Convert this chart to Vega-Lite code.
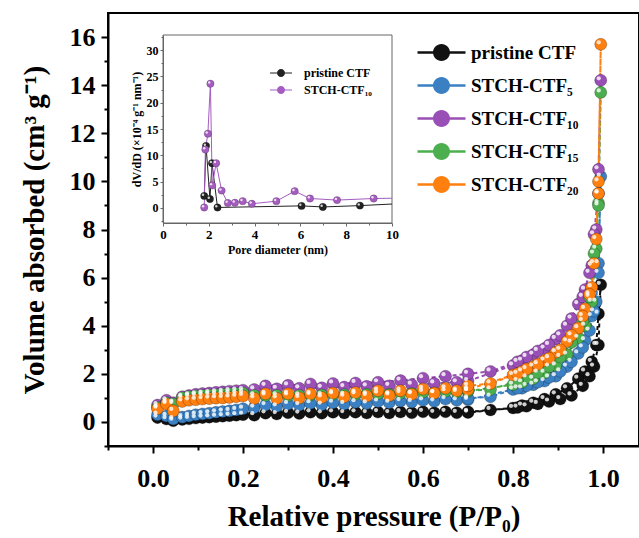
{
  "$schema": "https://vega.github.io/schema/vega-lite/v6.json",
  "width": 531,
  "height": 433,
  "autosize": {"type": "none"},
  "padding": {"left": 108, "top": 13, "right": 0, "bottom": 92},
  "background": "white",
  "config": {
    "view": {"stroke": "black", "strokeWidth": 2},
    "font": "Liberation Serif",
    "axis": {"labelFont": "Liberation Serif", "titleFont": "Liberation Serif", "labelFontWeight": "bold", "titleFontWeight": "bold", "labelColor": "black", "titleColor": "black", "grid": false, "labelFlush": false, "labelOverlap": false},
    "legend": {"labelFont": "Liberation Serif", "labelFontWeight": "bold", "labelColor": "black", "symbolStrokeWidth": 0, "orient": "none", "direction": "vertical"}
  },
  "datasets": {
    "main": [
      {"s":"P","x":0.01,"y":0.18},{"s":"P","x":0.03,"y":0.12},{"s":"P","x":0.045,"y":0.05},{"s":"P","x":0.065,"y":0.1},{"s":"P","x":0.08,"y":0.13},{"s":"P","x":0.095,"y":0.16},{"s":"P","x":0.11,"y":0.18},{"s":"P","x":0.125,"y":0.2},{"s":"P","x":0.14,"y":0.22},{"s":"P","x":0.155,"y":0.24},{"s":"P","x":0.17,"y":0.26},{"s":"P","x":0.185,"y":0.28},{"s":"P","x":0.2,"y":0.3},{"s":"P","x":0.225,"y":0.28},{"s":"P","x":0.275,"y":0.33},{"s":"P","x":0.325,"y":0.35},{"s":"P","x":0.375,"y":0.36},{"s":"P","x":0.425,"y":0.37},{"s":"P","x":0.475,"y":0.37},{"s":"P","x":0.525,"y":0.37},{"s":"P","x":0.575,"y":0.38},{"s":"P","x":0.625,"y":0.38},{"s":"P","x":0.675,"y":0.38},{"s":"P","x":0.7,"y":0.39},{"s":"P","x":0.8,"y":0.58},{"s":"P","x":0.82,"y":0.68},{"s":"P","x":0.845,"y":0.8},{"s":"P","x":0.87,"y":0.95},{"s":"P","x":0.895,"y":1.15},{"s":"P","x":0.92,"y":1.4},{"s":"P","x":0.945,"y":1.8},{"s":"P","x":0.96,"y":2.1},{"s":"P","x":0.975,"y":2.5},{"s":"P","x":0.985,"y":3.2},{"s":"P","x":0.99,"y":4.5},{"s":"P","x":0.995,"y":5.7},
      {"s":"P","x":0.99,"y":3.2},{"s":"P","x":0.98,"y":2.3},{"s":"P","x":0.97,"y":1.9},{"s":"P","x":0.955,"y":1.5},{"s":"P","x":0.93,"y":1.1},{"s":"P","x":0.905,"y":0.95},{"s":"P","x":0.88,"y":0.85},{"s":"P","x":0.855,"y":0.75},{"s":"P","x":0.83,"y":0.65},{"s":"P","x":0.81,"y":0.6},{"s":"P","x":0.75,"y":0.5},{"s":"P","x":0.7,"y":0.42},{"s":"P","x":0.65,"y":0.42},{"s":"P","x":0.6,"y":0.42},{"s":"P","x":0.55,"y":0.41},{"s":"P","x":0.5,"y":0.41},{"s":"P","x":0.45,"y":0.4},{"s":"P","x":0.4,"y":0.4},{"s":"P","x":0.35,"y":0.4},{"s":"P","x":0.3,"y":0.38},{"s":"P","x":0.25,"y":0.36},

      {"s":"S5","x":0.01,"y":0.3},{"s":"S5","x":0.03,"y":0.25},{"s":"S5","x":0.045,"y":0.12},{"s":"S5","x":0.065,"y":0.2},{"s":"S5","x":0.08,"y":0.25},{"s":"S5","x":0.095,"y":0.3},{"s":"S5","x":0.11,"y":0.33},{"s":"S5","x":0.125,"y":0.36},{"s":"S5","x":0.14,"y":0.4},{"s":"S5","x":0.155,"y":0.43},{"s":"S5","x":0.17,"y":0.46},{"s":"S5","x":0.185,"y":0.5},{"s":"S5","x":0.2,"y":0.55},{"s":"S5","x":0.225,"y":0.6},{"s":"S5","x":0.275,"y":0.65},{"s":"S5","x":0.325,"y":0.7},{"s":"S5","x":0.375,"y":0.72},{"s":"S5","x":0.425,"y":0.75},{"s":"S5","x":0.475,"y":0.77},{"s":"S5","x":0.525,"y":0.8},{"s":"S5","x":0.575,"y":0.83},{"s":"S5","x":0.625,"y":0.86},{"s":"S5","x":0.675,"y":0.9},{"s":"S5","x":0.7,"y":0.92},{"s":"S5","x":0.8,"y":1.35},{"s":"S5","x":0.82,"y":1.4},{"s":"S5","x":0.845,"y":1.55},{"s":"S5","x":0.87,"y":1.7},{"s":"S5","x":0.895,"y":1.9},{"s":"S5","x":0.92,"y":2.3},{"s":"S5","x":0.945,"y":2.85},{"s":"S5","x":0.96,"y":3.4},{"s":"S5","x":0.975,"y":4.4},{"s":"S5","x":0.985,"y":5.0},{"s":"S5","x":0.99,"y":6.6},{"s":"S5","x":0.995,"y":10.2},
      {"s":"S5","x":0.99,"y":6.2},{"s":"S5","x":0.98,"y":4.6},{"s":"S5","x":0.97,"y":3.8},{"s":"S5","x":0.955,"y":3.1},{"s":"S5","x":0.93,"y":2.5},{"s":"S5","x":0.905,"y":2.1},{"s":"S5","x":0.88,"y":1.85},{"s":"S5","x":0.855,"y":1.65},{"s":"S5","x":0.83,"y":1.5},{"s":"S5","x":0.81,"y":1.4},{"s":"S5","x":0.75,"y":1.05},{"s":"S5","x":0.7,"y":0.98},{"s":"S5","x":0.65,"y":0.95},{"s":"S5","x":0.6,"y":0.9},{"s":"S5","x":0.55,"y":0.87},{"s":"S5","x":0.5,"y":0.85},{"s":"S5","x":0.45,"y":0.82},{"s":"S5","x":0.4,"y":0.8},{"s":"S5","x":0.35,"y":0.78},{"s":"S5","x":0.3,"y":0.75},{"s":"S5","x":0.25,"y":0.7},

      {"s":"S10","x":0.01,"y":0.7},{"s":"S10","x":0.03,"y":0.9},{"s":"S10","x":0.045,"y":0.8},{"s":"S10","x":0.065,"y":1.05},{"s":"S10","x":0.08,"y":1.1},{"s":"S10","x":0.095,"y":1.15},{"s":"S10","x":0.11,"y":1.18},{"s":"S10","x":0.125,"y":1.2},{"s":"S10","x":0.14,"y":1.23},{"s":"S10","x":0.155,"y":1.25},{"s":"S10","x":0.17,"y":1.28},{"s":"S10","x":0.185,"y":1.3},{"s":"S10","x":0.2,"y":1.32},{"s":"S10","x":0.225,"y":1.35},{"s":"S10","x":0.275,"y":1.38},{"s":"S10","x":0.325,"y":1.4},{"s":"S10","x":0.375,"y":1.42},{"s":"S10","x":0.425,"y":1.45},{"s":"S10","x":0.475,"y":1.48},{"s":"S10","x":0.525,"y":1.5},{"s":"S10","x":0.575,"y":1.55},{"s":"S10","x":0.625,"y":1.6},{"s":"S10","x":0.675,"y":1.65},{"s":"S10","x":0.7,"y":1.7},{"s":"S10","x":0.8,"y":2.35},{"s":"S10","x":0.82,"y":2.55},{"s":"S10","x":0.845,"y":2.8},{"s":"S10","x":0.87,"y":3.05},{"s":"S10","x":0.895,"y":3.45},{"s":"S10","x":0.92,"y":4.0},{"s":"S10","x":0.945,"y":4.9},{"s":"S10","x":0.96,"y":5.5},{"s":"S10","x":0.975,"y":6.5},{"s":"S10","x":0.985,"y":8.0},{"s":"S10","x":0.99,"y":10.5},{"s":"S10","x":0.995,"y":14.2},
      {"s":"S10","x":0.99,"y":9.5},{"s":"S10","x":0.98,"y":7.8},{"s":"S10","x":0.97,"y":6.2},{"s":"S10","x":0.955,"y":5.2},{"s":"S10","x":0.93,"y":4.3},{"s":"S10","x":0.905,"y":3.6},{"s":"S10","x":0.88,"y":3.2},{"s":"S10","x":0.855,"y":2.95},{"s":"S10","x":0.83,"y":2.7},{"s":"S10","x":0.81,"y":2.5},{"s":"S10","x":0.75,"y":2.1},{"s":"S10","x":0.7,"y":2.0},{"s":"S10","x":0.65,"y":1.9},{"s":"S10","x":0.6,"y":1.82},{"s":"S10","x":0.55,"y":1.72},{"s":"S10","x":0.5,"y":1.65},{"s":"S10","x":0.45,"y":1.62},{"s":"S10","x":0.4,"y":1.6},{"s":"S10","x":0.35,"y":1.58},{"s":"S10","x":0.3,"y":1.52},{"s":"S10","x":0.25,"y":1.5},

      {"s":"S15","x":0.01,"y":0.6},{"s":"S15","x":0.03,"y":0.8},{"s":"S15","x":0.045,"y":0.75},{"s":"S15","x":0.065,"y":1.0},{"s":"S15","x":0.08,"y":1.05},{"s":"S15","x":0.095,"y":1.08},{"s":"S15","x":0.11,"y":1.1},{"s":"S15","x":0.125,"y":1.12},{"s":"S15","x":0.14,"y":1.13},{"s":"S15","x":0.155,"y":1.15},{"s":"S15","x":0.17,"y":1.17},{"s":"S15","x":0.185,"y":1.18},{"s":"S15","x":0.2,"y":1.2},{"s":"S15","x":0.225,"y":1.1},{"s":"S15","x":0.275,"y":1.1},{"s":"S15","x":0.325,"y":1.1},{"s":"S15","x":0.375,"y":1.12},{"s":"S15","x":0.425,"y":1.13},{"s":"S15","x":0.475,"y":1.15},{"s":"S15","x":0.525,"y":1.15},{"s":"S15","x":0.575,"y":1.18},{"s":"S15","x":0.625,"y":1.2},{"s":"S15","x":0.675,"y":1.25},{"s":"S15","x":0.7,"y":1.28},{"s":"S15","x":0.8,"y":1.55},{"s":"S15","x":0.82,"y":1.65},{"s":"S15","x":0.845,"y":1.8},{"s":"S15","x":0.87,"y":2.05},{"s":"S15","x":0.895,"y":2.35},{"s":"S15","x":0.92,"y":2.8},{"s":"S15","x":0.945,"y":3.5},{"s":"S15","x":0.96,"y":4.0},{"s":"S15","x":0.975,"y":5.0},{"s":"S15","x":0.985,"y":7.2},{"s":"S15","x":0.99,"y":9.1},{"s":"S15","x":0.995,"y":13.7},
      {"s":"S15","x":0.99,"y":9.0},{"s":"S15","x":0.98,"y":7.0},{"s":"S15","x":0.97,"y":5.2},{"s":"S15","x":0.955,"y":4.2},{"s":"S15","x":0.93,"y":3.3},{"s":"S15","x":0.905,"y":2.7},{"s":"S15","x":0.88,"y":2.3},{"s":"S15","x":0.855,"y":2.05},{"s":"S15","x":0.83,"y":1.85},{"s":"S15","x":0.81,"y":1.7},{"s":"S15","x":0.75,"y":1.35},{"s":"S15","x":0.7,"y":1.3},{"s":"S15","x":0.65,"y":1.28},{"s":"S15","x":0.6,"y":1.25},{"s":"S15","x":0.55,"y":1.2},{"s":"S15","x":0.5,"y":1.18},{"s":"S15","x":0.45,"y":1.15},{"s":"S15","x":0.4,"y":1.15},{"s":"S15","x":0.35,"y":1.12},{"s":"S15","x":0.3,"y":1.1},{"s":"S15","x":0.25,"y":1.1},

      {"s":"S20","x":0.01,"y":0.55},{"s":"S20","x":0.03,"y":0.75},{"s":"S20","x":0.045,"y":0.46},{"s":"S20","x":0.065,"y":0.85},{"s":"S20","x":0.08,"y":0.9},{"s":"S20","x":0.095,"y":0.92},{"s":"S20","x":0.11,"y":0.95},{"s":"S20","x":0.125,"y":0.97},{"s":"S20","x":0.14,"y":0.99},{"s":"S20","x":0.155,"y":1.0},{"s":"S20","x":0.17,"y":1.02},{"s":"S20","x":0.185,"y":1.05},{"s":"S20","x":0.2,"y":1.08},{"s":"S20","x":0.225,"y":0.98},{"s":"S20","x":0.275,"y":0.98},{"s":"S20","x":0.325,"y":1.0},{"s":"S20","x":0.375,"y":1.02},{"s":"S20","x":0.425,"y":1.05},{"s":"S20","x":0.475,"y":1.08},{"s":"S20","x":0.525,"y":1.1},{"s":"S20","x":0.575,"y":1.15},{"s":"S20","x":0.625,"y":1.2},{"s":"S20","x":0.675,"y":1.3},{"s":"S20","x":0.7,"y":1.35},{"s":"S20","x":0.8,"y":1.95},{"s":"S20","x":0.82,"y":2.1},{"s":"S20","x":0.845,"y":2.3},{"s":"S20","x":0.87,"y":2.55},{"s":"S20","x":0.895,"y":2.9},{"s":"S20","x":0.92,"y":3.35},{"s":"S20","x":0.945,"y":3.9},{"s":"S20","x":0.96,"y":4.7},{"s":"S20","x":0.975,"y":5.6},{"s":"S20","x":0.985,"y":7.6},{"s":"S20","x":0.99,"y":10.0},{"s":"S20","x":0.995,"y":15.7},
      {"s":"S20","x":0.99,"y":9.5},{"s":"S20","x":0.98,"y":6.6},{"s":"S20","x":0.97,"y":5.3},{"s":"S20","x":0.955,"y":4.4},{"s":"S20","x":0.93,"y":3.6},{"s":"S20","x":0.905,"y":3.0},{"s":"S20","x":0.88,"y":2.65},{"s":"S20","x":0.855,"y":2.4},{"s":"S20","x":0.83,"y":2.2},{"s":"S20","x":0.81,"y":2.0},{"s":"S20","x":0.75,"y":1.6},{"s":"S20","x":0.7,"y":1.5},{"s":"S20","x":0.65,"y":1.4},{"s":"S20","x":0.6,"y":1.37},{"s":"S20","x":0.55,"y":1.3},{"s":"S20","x":0.5,"y":1.3},{"s":"S20","x":0.45,"y":1.22},{"s":"S20","x":0.4,"y":1.2},{"s":"S20","x":0.35,"y":1.17},{"s":"S20","x":0.3,"y":1.17},{"s":"S20","x":0.25,"y":1.17}
    ],
    "inset": [
      {"s":"P","x":1.8,"y":2.3},{"s":"P","x":1.88,"y":11.8},{"s":"P","x":2.05,"y":1.7},{"s":"P","x":2.14,"y":8.5},{"s":"P","x":2.38,"y":0.1},{"s":"P","x":6.05,"y":0.4},{"s":"P","x":6.98,"y":0.2},{"s":"P","x":8.6,"y":0.45},{"s":"P","x":10,"y":0.75},
      {"s":"S10","x":1.8,"y":0.1},{"s":"S10","x":1.85,"y":11.1},{"s":"S10","x":1.96,"y":14.1},{"s":"S10","x":2.07,"y":23.6},{"s":"S10","x":2.15,"y":4.3},{"s":"S10","x":2.32,"y":8.5},{"s":"S10","x":2.56,"y":3.3},{"s":"S10","x":2.83,"y":0.95},{"s":"S10","x":3.14,"y":1.0},{"s":"S10","x":3.48,"y":1.3},{"s":"S10","x":3.88,"y":0.8},{"s":"S10","x":4.95,"y":1.3},{"s":"S10","x":5.75,"y":3.2},{"s":"S10","x":6.42,"y":1.8},{"s":"S10","x":7.6,"y":1.5},{"s":"S10","x":9.2,"y":1.8},{"s":"S10","x":10,"y":1.85}
    ]
  },
  "resolve": {"scale": {"x": "independent", "y": "independent", "color": "independent", "stroke": "independent"}},
  "layer": [
    {
      "data": {"name": "main"},
      "resolve": {"axis": {"x": "independent", "y": "independent"}},
      "layer": [
        {
          "mark": {"type": "line", "strokeWidth": 2, "strokeDash": [4, 3]},
          "encoding": {
            "x": {"field": "x", "type": "quantitative", "scale": {"domain": [-0.1, 1.08], "nice": false, "zero": false},
                  "axis": {"orient": "bottom", "title": "Relative pressure (P/P₀)", "values": [0, 0.2, 0.4, 0.6, 0.8, 1.0], "format": ".1f", "labelFontSize": 26, "titleFontSize": 29, "tickSize": 7, "tickWidth": 2, "domainWidth": 2, "domainColor": "black", "tickColor": "black", "labelPadding": 12, "titlePadding": 11}},
            "y": {"field": "y", "type": "quantitative", "scale": {"domain": [-1, 17], "nice": false, "zero": false},
                  "axis": {"orient": "left", "title": "Volume absorbed (cm³ g⁻¹)", "values": [0, 2, 4, 6, 8, 10, 12, 14, 16], "labelFontSize": 26, "titleFontSize": 29, "tickSize": 7, "tickWidth": 2, "domainWidth": 2, "domainColor": "black", "tickColor": "black", "labelPadding": 6, "titlePadding": 20}},
            "stroke": {"field": "s", "type": "nominal", "scale": {"domain": ["S20", "S15", "S10", "S5", "P"], "range": ["#ff7f0f", "#4caf4f", "#9a4fb6", "#3a80c3", "#111111"]}, "legend": null},
            "order": {"value": null}
          }
        },
        {
          "mark": {"type": "point", "filled": true, "size": 145, "opacity": 1, "stroke": "black", "strokeOpacity": 0.3, "strokeWidth": 0.8},
          "encoding": {
            "x": {"field": "x", "type": "quantitative", "axis": null},
            "y": {"field": "y", "type": "quantitative", "axis": null},
            "color": {"field": "s", "type": "nominal", "scale": {"domain": ["P", "S5", "S10", "S15", "S20"], "range": ["#111111", "#3a80c3", "#9a4fb6", "#4caf4f", "#ff7f0f"]},
                      "legend": {"title": null, "orient": "none", "legendX": 324, "legendY": 30, "symbolType": "M-2.667,-0.133H-0.9V0.133H-2.667Z M0.9,-0.133H2.667V0.133H0.9Z M0.944,0A0.944,0.944,0,1,1,-0.944,0A0.944,0.944,0,1,1,0.944,0Z", "symbolSize": 324, "labelFontSize": 19, "labelOffset": 20, "rowPadding": 13,
                                 "labelExpr": "datum.label == 'P' ? 'pristine CTF' : datum.label == 'S5' ? 'STCH-CTF₅' : datum.label == 'S10' ? 'STCH-CTF₁₀' : datum.label == 'S15' ? 'STCH-CTF₁₅' : 'STCH-CTF₂₀'"}}
          }
        },
        {
          "mark": {"type": "point", "filled": true, "size": 18, "color": "white", "opacity": 0.8, "xOffset": -2, "yOffset": -2},
          "encoding": {
            "x": {"field": "x", "type": "quantitative", "axis": {"orient": "bottom", "title": null, "values": [-0.1, 0.1, 0.3, 0.5, 0.7, 0.9], "labels": false, "domain": false, "tickSize": 4, "tickWidth": 2, "tickColor": "black"}},
            "y": {"field": "y", "type": "quantitative", "axis": {"orient": "left", "title": null, "values": [-1, 1, 3, 5, 7, 9, 11, 13, 15], "labels": false, "domain": false, "tickSize": 4, "tickWidth": 2, "tickColor": "black"}}
          }
        }
      ]
    },
    {
      "data": {"name": "inset"},
      "resolve": {"axis": {"x": "independent", "y": "independent"}},
      "layer": [
        {
          "data": {"values": [{}]},
          "mark": {"type": "rect", "filled": false, "stroke": "#666666", "strokeWidth": 1},
          "encoding": {
            "x": {"datum": 0, "type": "quantitative", "scale": {"domain": [0, 10], "range": [55, 284], "nice": false, "zero": false},
                  "axis": {"orient": "bottom", "offset": -223, "title": "Pore diameter (nm)", "values": [0, 2, 4, 6, 8, 10], "labelFontSize": 13, "titleFontSize": 12, "tickSize": 3, "tickWidth": 1, "domainColor": "#666666", "tickColor": "#666666", "labelPadding": 2, "titlePadding": 3}},
            "x2": {"datum": 10},
            "y": {"datum": -2.85, "type": "quantitative", "scale": {"domain": [-2.85, 32.85], "range": [210, 22], "nice": false, "zero": false},
                  "axis": {"orient": "left", "offset": -55, "title": "dV/dD (×10⁻⁴ g⁻¹ nm⁻¹)", "values": [0, 5, 10, 15, 20, 25, 30], "labelFontSize": 12, "titleFontSize": 12, "tickSize": 3, "tickWidth": 1, "domainColor": "#666666", "tickColor": "#666666", "labelPadding": 2, "titlePadding": 3}},
            "y2": {"datum": 32.85}
          }
        },
        {
          "mark": {"type": "line", "strokeWidth": 1},
          "encoding": {
            "x": {"field": "x", "type": "quantitative", "axis": null},
            "y": {"field": "y", "type": "quantitative", "axis": null},
            "stroke": {"field": "s", "type": "nominal", "scale": {"domain": ["S10", "P"], "range": ["#a55cc0", "#222222"]}, "legend": null},
            "order": {"value": null}
          }
        },
        {
          "transform": [{"filter": "datum.x < 10"}],
          "mark": {"type": "point", "filled": true, "size": 55, "opacity": 1, "stroke": "black", "strokeOpacity": 0.3, "strokeWidth": 0.6},
          "encoding": {
            "x": {"field": "x", "type": "quantitative", "axis": null},
            "y": {"field": "y", "type": "quantitative", "axis": null},
            "color": {"field": "s", "type": "nominal", "scale": {"domain": ["P", "S10"], "range": ["#222222", "#a55cc0"]},
                      "legend": {"title": null, "orient": "none", "legendX": 167, "legendY": 54, "symbolType": "M-2.2,-0.1H-0.7V0.1H-2.2Z M0.7,-0.1H2.2V0.1H0.7Z M0.8,0A0.8,0.8,0,1,1,-0.8,0A0.8,0.8,0,1,1,0.8,0Z", "symbolSize": 100, "labelFontSize": 12, "labelOffset": 17, "rowPadding": 5,
                                 "labelExpr": "datum.label == 'P' ? 'pristine CTF' : 'STCH-CTF₁₀'"}}
          }
        },
        {
          "transform": [{"filter": "datum.x < 10"}],
          "mark": {"type": "point", "filled": true, "size": 6, "color": "white", "opacity": 0.8, "xOffset": -1.2, "yOffset": -1.2},
          "encoding": {
            "x": {"field": "x", "type": "quantitative", "axis": {"orient": "bottom", "offset": -223, "title": null, "values": [1, 3, 5, 7, 9], "labels": false, "domain": false, "tickSize": 2, "tickWidth": 1, "tickColor": "#666666"}},
            "y": {"field": "y", "type": "quantitative", "axis": {"orient": "left", "offset": -55, "title": null, "values": [-2.5, 2.5, 7.5, 12.5, 17.5, 22.5, 27.5, 32.5], "labels": false, "domain": false, "tickSize": 2, "tickWidth": 1, "tickColor": "#666666"}}
          }
        }
      ]
    }
  ]
}
